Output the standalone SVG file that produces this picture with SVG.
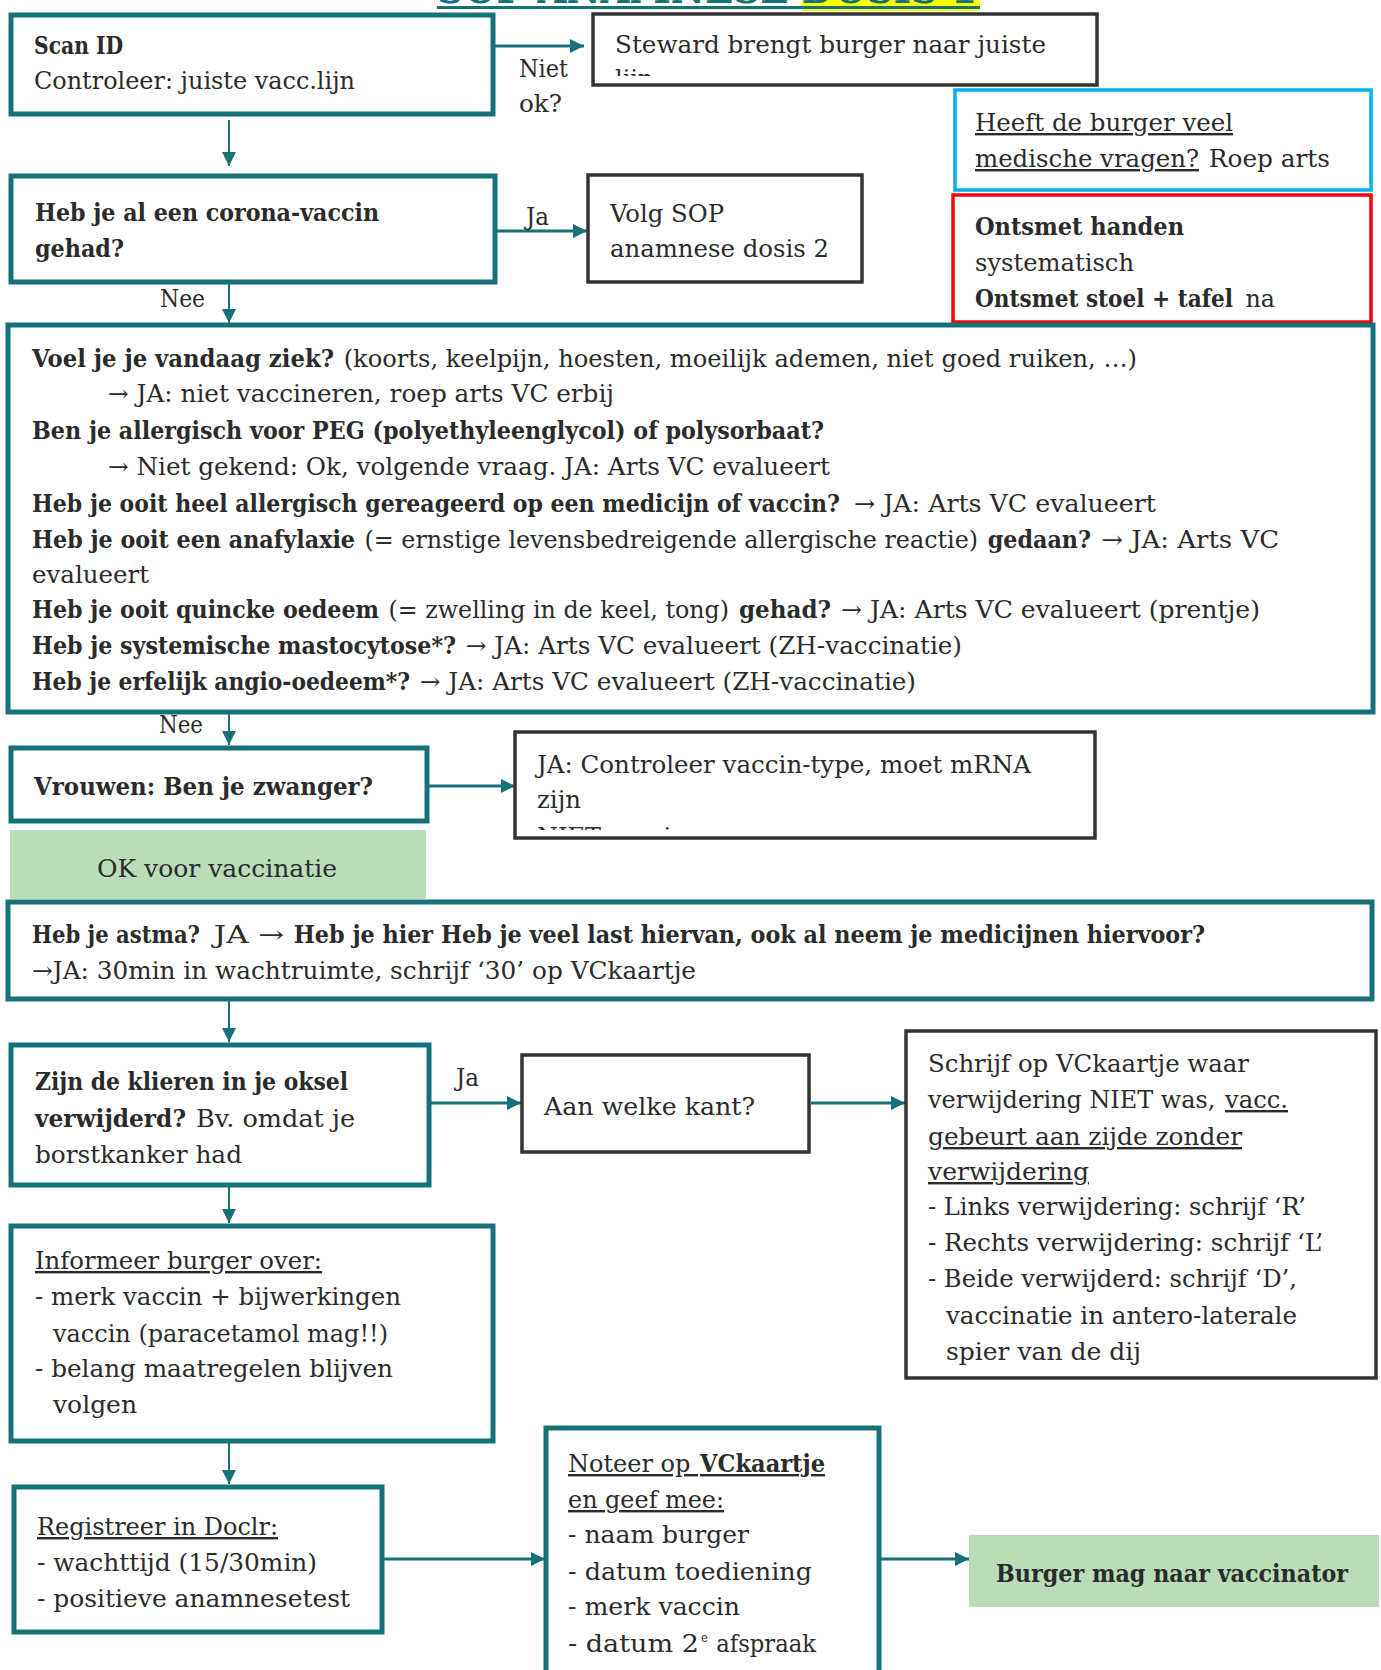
<svg xmlns="http://www.w3.org/2000/svg" width="1381" height="1670" viewBox="0 0 1381 1670">
<style>
.t{font-family:"DejaVu Serif","Liberation Serif",serif;font-size:24px;fill:#2b2b2b}
.b{font-weight:bold}
.u{text-decoration:underline}
.tb{fill:#fff;stroke:#167278;stroke-width:5}
.db{fill:#fff;stroke:#333;stroke-width:3.5}
.gb{fill:#b9ddb8}
.cv{stroke:#167278;stroke-width:2;fill:none}
.ch{stroke:#167278;stroke-width:3;fill:none}
</style>
<defs>
<marker id="ah" markerUnits="userSpaceOnUse" markerWidth="14" markerHeight="14" refX="14" refY="7" orient="auto">
<path d="M0,0 L14,7 L0,14 z" fill="#167278"/>
</marker>
<clipPath id="clipSteward"><rect x="593" y="14" width="504" height="62"/></clipPath>
<clipPath id="clipJa"><rect x="515" y="731" width="580" height="99"/></clipPath>
</defs>
<rect width="1381" height="1670" fill="#fff"/>

<g id="title">
<rect x="802" y="0" width="178" height="11" fill="#ffff00"/>
<text x="437" y="3" font-family="DejaVu Serif,serif" font-size="44" font-weight="bold" fill="#167278" textLength="540" lengthAdjust="spacingAndGlyphs">SOP ANAMNESE DOSIS 1</text>
<rect x="437" y="6" width="543" height="3" fill="#167278"/>
</g>

<g id="connectors">
<path class="ch" d="M493,46 H584" marker-end="url(#ah)"/>
<path class="cv" d="M229,120 V166" marker-end="url(#ah)"/>
<path class="ch" d="M495,231 H587" marker-end="url(#ah)"/>
<path class="cv" d="M229,283 V323" marker-end="url(#ah)"/>
<path class="cv" d="M229,712 V745" marker-end="url(#ah)"/>
<path class="ch" d="M427,786 H515" marker-end="url(#ah)"/>
<path class="cv" d="M229,1000 V1042" marker-end="url(#ah)"/>
<path class="ch" d="M429,1103 H521" marker-end="url(#ah)"/>
<path class="ch" d="M811,1103 H905" marker-end="url(#ah)"/>
<path class="cv" d="M229,1187 V1223" marker-end="url(#ah)"/>
<path class="cv" d="M229,1442 V1484" marker-end="url(#ah)"/>
<path class="ch" d="M383,1559 H545" marker-end="url(#ah)"/>
<path class="ch" d="M879,1559 H969" marker-end="url(#ah)"/>
<text class="t" x="519" y="77" textLength="49" lengthAdjust="spacingAndGlyphs">Niet</text>
<text class="t" x="519" y="112" textLength="43" lengthAdjust="spacingAndGlyphs">ok?</text>
<text class="t" x="526" y="225" textLength="23" lengthAdjust="spacingAndGlyphs">Ja</text>
<text class="t" x="160" y="307" textLength="45" lengthAdjust="spacingAndGlyphs">Nee</text>
<text class="t" x="159" y="733" textLength="44" lengthAdjust="spacingAndGlyphs">Nee</text>
<text class="t" x="456" y="1086" textLength="23" lengthAdjust="spacingAndGlyphs">Ja</text>
</g>

<g id="scan-id">
<rect class="tb" x="11" y="15" width="482" height="99"/>
<text class="t b" x="34" y="54" textLength="89" lengthAdjust="spacingAndGlyphs">Scan ID</text>
<text class="t" x="34" y="89" textLength="321" lengthAdjust="spacingAndGlyphs">Controleer: juiste vacc.lijn</text>
</g>

<g id="steward">
<rect class="db" x="593" y="14" width="504" height="71"/>
<text class="t" x="615" y="53" textLength="431" lengthAdjust="spacingAndGlyphs">Steward brengt burger naar juiste</text>
<text class="t" x="615" y="87" clip-path="url(#clipSteward)">lijn</text>
</g>

<g id="medische-vragen">
<rect x="955" y="90" width="416" height="100" fill="#fff" stroke="#00b0f0" stroke-width="3.5"/>
<text class="t u" x="975" y="131" textLength="258" lengthAdjust="spacingAndGlyphs">Heeft de burger veel</text>
<text class="t" y="167"><tspan class="u" x="975" textLength="224" lengthAdjust="spacingAndGlyphs">medische vragen?</tspan><tspan x="1201" textLength="129" lengthAdjust="spacingAndGlyphs"> Roep arts</tspan></text>
</g>

<g id="ontsmet">
<rect x="953" y="195" width="418" height="127" fill="#fff" stroke="#ff0000" stroke-width="3.5"/>
<text class="t b" x="975" y="235" textLength="209" lengthAdjust="spacingAndGlyphs">Ontsmet handen</text>
<text class="t" x="975" y="271" textLength="159" lengthAdjust="spacingAndGlyphs">systematisch</text>
<text class="t" y="307"><tspan class="b" x="975" textLength="258" lengthAdjust="spacingAndGlyphs">Ontsmet stoel + tafel</tspan><tspan x="1238" textLength="37" lengthAdjust="spacingAndGlyphs"> na</tspan></text>
</g>

<g id="corona-vaccin">
<rect class="tb" x="11" y="176" width="484" height="106"/>
<text class="t b" x="35" y="221" textLength="344" lengthAdjust="spacingAndGlyphs">Heb je al een corona-vaccin</text>
<text class="t b" x="35" y="257" textLength="89" lengthAdjust="spacingAndGlyphs">gehad?</text>
</g>

<g id="volg-sop">
<rect class="db" x="588" y="175" width="274" height="107"/>
<text class="t" x="610" y="222" textLength="114" lengthAdjust="spacingAndGlyphs">Volg SOP</text>
<text class="t" x="610" y="257" textLength="219" lengthAdjust="spacingAndGlyphs">anamnese dosis 2</text>
</g>

<g id="vragen">
<rect class="tb" x="8" y="325" width="1365" height="387"/>
<text class="t" y="367"><tspan class="b" x="32" textLength="302" lengthAdjust="spacingAndGlyphs">Voel je je vandaag ziek?</tspan><tspan x="336" textLength="801" lengthAdjust="spacingAndGlyphs"> (koorts, keelpijn, hoesten, moeilijk ademen, niet goed ruiken, …)</tspan></text>
<text class="t" x="108" y="402" textLength="506" lengthAdjust="spacingAndGlyphs">→ JA: niet vaccineren, roep arts VC erbij</text>
<text class="t b" x="32" y="439" textLength="792" lengthAdjust="spacingAndGlyphs">Ben je allergisch voor PEG (polyethyleenglycol) of polysorbaat?</text>
<text class="t" x="108" y="475" textLength="722" lengthAdjust="spacingAndGlyphs">→ Niet gekend: Ok, volgende vraag. JA: Arts VC evalueert</text>
<text class="t" y="512"><tspan class="b" x="32" textLength="808" lengthAdjust="spacingAndGlyphs">Heb je ooit heel allergisch gereageerd op een medicijn of vaccin?</tspan><tspan x="846" textLength="310" lengthAdjust="spacingAndGlyphs"> → JA: Arts VC evalueert</tspan></text>
<text class="t" y="548"><tspan class="b" x="32" textLength="323" lengthAdjust="spacingAndGlyphs">Heb je ooit een anafylaxie</tspan><tspan x="357" textLength="621" lengthAdjust="spacingAndGlyphs"> (= ernstige levensbedreigende allergische reactie)</tspan><tspan class="b" x="980" textLength="111" lengthAdjust="spacingAndGlyphs"> gedaan?</tspan><tspan x="1093" textLength="186" lengthAdjust="spacingAndGlyphs"> → JA: Arts VC</tspan></text>
<text class="t" x="32" y="583" textLength="117" lengthAdjust="spacingAndGlyphs">evalueert</text>
<text class="t" y="618"><tspan class="b" x="32" textLength="347" lengthAdjust="spacingAndGlyphs">Heb je ooit quincke oedeem</tspan><tspan x="381" textLength="348" lengthAdjust="spacingAndGlyphs"> (= zwelling in de keel, tong)</tspan><tspan class="b" x="731" textLength="100" lengthAdjust="spacingAndGlyphs"> gehad?</tspan><tspan x="833" textLength="427" lengthAdjust="spacingAndGlyphs"> → JA: Arts VC evalueert (prentje)</tspan></text>
<text class="t" y="654"><tspan class="b" x="32" textLength="424" lengthAdjust="spacingAndGlyphs">Heb je systemische mastocytose*?</tspan><tspan x="458" textLength="504" lengthAdjust="spacingAndGlyphs"> → JA: Arts VC evalueert (ZH-vaccinatie)</tspan></text>
<text class="t" y="690"><tspan class="b" x="32" textLength="378" lengthAdjust="spacingAndGlyphs">Heb je erfelijk angio-oedeem*?</tspan><tspan x="412" textLength="504" lengthAdjust="spacingAndGlyphs"> → JA: Arts VC evalueert (ZH-vaccinatie)</tspan></text>
</g>

<g id="zwanger">
<rect class="tb" x="11" y="748" width="416" height="73"/>
<text class="t b" x="34" y="795" textLength="339" lengthAdjust="spacingAndGlyphs">Vrouwen: Ben je zwanger?</text>
</g>

<g id="vaccin-type">
<rect class="db" x="515" y="732" width="580" height="106"/>
<text class="t" x="537" y="773" textLength="494" lengthAdjust="spacingAndGlyphs">JA: Controleer vaccin-type, moet mRNA</text>
<text class="t" x="537" y="808" textLength="44" lengthAdjust="spacingAndGlyphs">zijn</text>
<text class="t" x="537" y="845" clip-path="url(#clipJa)">NIET vaccineren</text>
</g>

<g id="ok-vaccinatie">
<rect class="gb" x="10" y="830" width="416" height="69"/>
<text class="t" x="97" y="877" textLength="240" lengthAdjust="spacingAndGlyphs">OK voor vaccinatie</text>
</g>

<g id="astma">
<rect class="tb" x="8" y="902" width="1364" height="97"/>
<text class="t" y="943"><tspan class="b" x="32" textLength="168" lengthAdjust="spacingAndGlyphs">Heb je astma?</tspan><tspan x="204" textLength="80" lengthAdjust="spacingAndGlyphs"> JA →</tspan><tspan class="b" x="286" textLength="919" lengthAdjust="spacingAndGlyphs"> Heb je hier Heb je veel last hiervan, ook al neem je medicijnen hiervoor?</tspan></text>
<text class="t" x="32" y="979" textLength="664" lengthAdjust="spacingAndGlyphs">→JA: 30min in wachtruimte, schrijf ‘30’ op VCkaartje</text>
</g>

<g id="klieren">
<rect class="tb" x="11" y="1045" width="418" height="140"/>
<text class="t b" x="35" y="1090" textLength="313" lengthAdjust="spacingAndGlyphs">Zijn de klieren in je oksel</text>
<text class="t" y="1127"><tspan class="b" x="35" textLength="151" lengthAdjust="spacingAndGlyphs">verwijderd?</tspan><tspan x="188" textLength="167" lengthAdjust="spacingAndGlyphs"> Bv. omdat je</tspan></text>
<text class="t" x="35" y="1163" textLength="207" lengthAdjust="spacingAndGlyphs">borstkanker had</text>
</g>

<g id="welke-kant">
<rect class="db" x="522" y="1055" width="287" height="97"/>
<text class="t" x="544" y="1115" textLength="211" lengthAdjust="spacingAndGlyphs">Aan welke kant?</text>
</g>

<g id="schrijf">
<rect class="db" x="906" y="1031" width="470" height="347"/>
<text class="t" x="928" y="1072" textLength="321" lengthAdjust="spacingAndGlyphs">Schrijf op VCkaartje waar</text>
<text class="t" y="1108"><tspan x="928" textLength="295" lengthAdjust="spacingAndGlyphs">verwijdering NIET was, </tspan><tspan class="u" x="1225" textLength="63" lengthAdjust="spacingAndGlyphs">vacc.</tspan></text>
<text class="t u" x="928" y="1145" textLength="314" lengthAdjust="spacingAndGlyphs">gebeurt aan zijde zonder</text>
<text class="t u" x="928" y="1180" textLength="161" lengthAdjust="spacingAndGlyphs">verwijdering</text>
<text class="t" x="928" y="1215" textLength="378" lengthAdjust="spacingAndGlyphs">- Links verwijdering: schrijf ‘R’</text>
<text class="t" x="928" y="1251" textLength="395" lengthAdjust="spacingAndGlyphs">- Rechts verwijdering: schrijf ‘L’</text>
<text class="t" x="928" y="1287" textLength="369" lengthAdjust="spacingAndGlyphs">- Beide verwijderd: schrijf ‘D’,</text>
<text class="t" x="946" y="1324" textLength="351" lengthAdjust="spacingAndGlyphs">vaccinatie in antero-laterale</text>
<text class="t" x="946" y="1360" textLength="195" lengthAdjust="spacingAndGlyphs">spier van de dij</text>
</g>

<g id="informeer">
<rect class="tb" x="11" y="1226" width="482" height="215"/>
<text class="t u" x="35" y="1269" textLength="287" lengthAdjust="spacingAndGlyphs">Informeer burger over:</text>
<text class="t" x="35" y="1305" textLength="366" lengthAdjust="spacingAndGlyphs">- merk vaccin + bijwerkingen</text>
<text class="t" x="53" y="1342" textLength="335" lengthAdjust="spacingAndGlyphs">vaccin (paracetamol mag!!)</text>
<text class="t" x="35" y="1377" textLength="358" lengthAdjust="spacingAndGlyphs">- belang maatregelen blijven</text>
<text class="t" x="53" y="1413" textLength="84" lengthAdjust="spacingAndGlyphs">volgen</text>
</g>

<g id="registreer">
<rect class="tb" x="14" y="1487" width="368" height="145"/>
<text class="t u" x="37" y="1535" textLength="241" lengthAdjust="spacingAndGlyphs">Registreer in Doclr:</text>
<text class="t" x="37" y="1571" textLength="280" lengthAdjust="spacingAndGlyphs">- wachttijd (15/30min)</text>
<text class="t" x="37" y="1607" textLength="313" lengthAdjust="spacingAndGlyphs">- positieve anamnesetest</text>
</g>

<g id="noteer">
<rect class="tb" x="546" y="1428" width="333" height="260"/>
<text class="t u" y="1472"><tspan x="568" textLength="130" lengthAdjust="spacingAndGlyphs">Noteer op </tspan><tspan class="b" x="700" textLength="125" lengthAdjust="spacingAndGlyphs">VCkaartje</tspan></text>
<text class="t u" x="568" y="1508" textLength="156" lengthAdjust="spacingAndGlyphs">en geef mee:</text>
<text class="t" x="568" y="1543" textLength="181" lengthAdjust="spacingAndGlyphs">- naam burger</text>
<text class="t" x="568" y="1580" textLength="244" lengthAdjust="spacingAndGlyphs">- datum toediening</text>
<text class="t" x="568" y="1615" textLength="172" lengthAdjust="spacingAndGlyphs">- merk vaccin</text>
<text class="t" y="1652"><tspan x="568" textLength="131" lengthAdjust="spacingAndGlyphs">- datum 2</tspan><tspan x="701" dy="-10" font-size="13" textLength="7" lengthAdjust="spacingAndGlyphs">e</tspan><tspan x="709" dy="10" textLength="107" lengthAdjust="spacingAndGlyphs"> afspraak</tspan></text>
</g>

<g id="naar-vaccinator">
<rect class="gb" x="969" y="1535" width="410" height="72"/>
<text class="t b" x="996" y="1582" textLength="352" lengthAdjust="spacingAndGlyphs">Burger mag naar vaccinator</text>
</g>
</svg>
